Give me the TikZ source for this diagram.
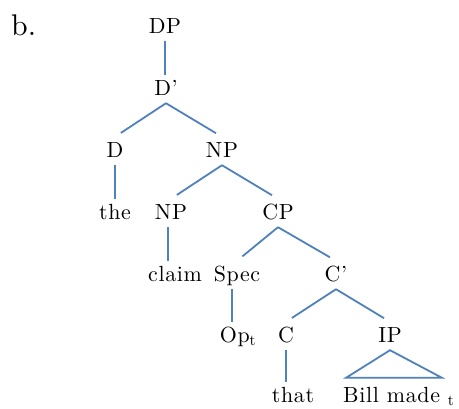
\documentclass[tikz,border=0pt]{standalone}
\usepackage{fontspec}
\setmainfont{lmroman10-regular}[Extension=.otf, ItalicFont=lmroman10-italic, BoldFont=lmroman10-bold]
\usetikzlibrary{calc}
\definecolor{treeblue}{RGB}{79,129,189}
\begin{document}
\begin{tikzpicture}[x=1bp,y=-1bp,
  lab/.style={anchor=base, inner sep=4bp, text height=16bp, text depth=4bp,
    font=\fontsize{22}{26}\selectfont\addfontfeatures{LetterSpace=3}},
  branch/.style={draw=treeblue, line width=1.8bp},
  diag/.style={branch, shorten >=7bp}]
\useasboundingbox[fill=white] (0,0) rectangle (459,408);

\node[anchor=base west, inner sep=0pt, font=\fontsize{30}{34}\selectfont] (lbl) at (11,35) {b.};

\node[lab] (DP) at (165,33) {DP};
\node[lab] (Dbar) at (166,95) {D'};
\node[lab] (D) at (115,157) {D};
\node[lab] (NPa) at (222,157) {NP};
\node[lab] (the) at (115,219) {the};
\node[lab] (NPb) at (171,219) {NP};
\node[lab] (CP) at (278,219) {CP};
\node[lab] (claim) at (175,281) {claim};
\node[lab] (Spec) at (237,281) {Spec};
\node[lab] (Cbar) at (336,281) {C'};
\node[lab] (Op) at (238,342) {Op\textsubscript{t}};
\node[lab] (C) at (286,342) {C};
\node[lab] (IP) at (390,342) {IP};
\node[lab] (that) at (293,402) {that};
\node[lab, anchor=base west] (bill) at (339,402) {Bill made \textsubscript{t}};

\draw[branch] (DP.south) -- (DP.south |- Dbar.north);
\draw[diag] (Dbar.south) -- (D.north);
\draw[diag] (Dbar.south) -- (NPa.north);
\draw[branch] (D.south) -- (D.south |- the.north);
\draw[diag] (NPa.south) -- (NPb.north);
\draw[diag] (NPa.south) -- (CP.north);
\draw[branch] ([xshift=-3bp]NPb.south) -- ([xshift=-3bp]NPb.south |- claim.north);
\draw[diag] (CP.south) -- (Spec.north);
\draw[diag] (CP.south) -- (Cbar.north);
\draw[branch] ([xshift=-5bp]Spec.south) -- ([xshift=-5bp]Spec.south |- Op.north);
\draw[diag] (Cbar.south) -- (C.north);
\draw[diag] (Cbar.south) -- (IP.north);
\draw[branch] (C.south) -- (C.south |- that.north);
\draw[branch, line join=miter] (IP.south) -- ($(bill.north west)+(7,-4)$) -- ($(bill.north west)+(103,-4)$) -- cycle;
\end{tikzpicture}
\end{document}
